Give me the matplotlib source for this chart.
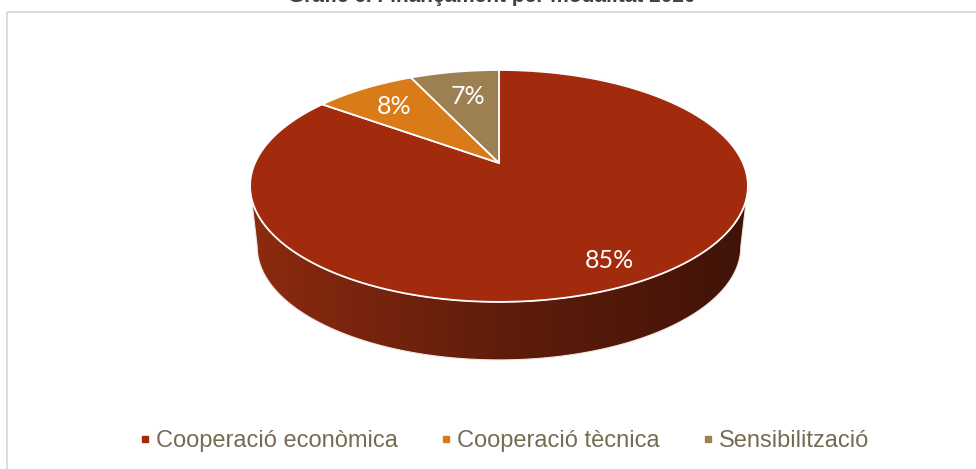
import matplotlib
matplotlib.use('Agg')
from matplotlib import pyplot as plt
from matplotlib.patches import Polygon, Rectangle
from matplotlib.lines import Line2D
import numpy as np

title = "Gràfic 6. Finançament per modalitat 2020"
categories = ["Cooperació econòmica", "Cooperació tècnica", "Sensibilització"]
shares = [85, 8, 7]
colors = ["#A22B0E", "#DA7B19", "#9C8052"]

# perspective ellipse of the pie top (pixel coords, y down)
cx, cy = 499, 163
k = 0.198
A, B = 244, 111.4
A_b, B_b, depth = 237, 108.6, 61.5


def proj(theta, a, b, y0):
    t = np.radians(theta)
    X, Y = np.sin(t), np.cos(t)
    w = 1 + k * Y
    return cx + a * X / w, y0 - b * Y / w


fig = plt.figure(figsize=(9.76, 4.69), dpi=100)
ax = fig.add_axes([0, 0, 1, 1])
ax.set_xlim(0, 976)
ax.set_ylim(469, 0)
ax.axis('off')

# chart frame
ax.add_patch(Rectangle((7, 12), 1000, 500, fill=False, edgecolor='#d9d9d9', lw=1.3))

# title (cut off at top of image, as in the source)
ax.text(492, 1.5, title, ha='center', va='baseline', fontsize=15, weight='bold',
        color='#404040', family='Liberation Sans')

# side of the pie
t_left = np.degrees(np.arccos(-k))
t1 = np.linspace(360 - t_left, t_left, 300)
xt, yt = proj(t1, A, B, cy)
xb, yb = proj(t1[::-1], A_b, B_b, cy + depth)
side = Polygon(np.column_stack([np.r_[xt, xb], np.r_[yt, yb]]), closed=True,
               facecolor='none', edgecolor='#f3e6e0', lw=0.8, zorder=2)
ax.add_patch(side)
gx = np.linspace(250, 750, 400)
stops_x = [250, 500, 750]
stops_c = np.array([[140, 43, 16], [96, 29, 11], [64, 19, 8]]) / 255.0
grad = np.stack([np.interp(gx, stops_x, stops_c[:, i]) for i in range(3)], axis=-1)[None, :, :]
im = ax.imshow(grad, extent=[250, 750, 380, 170], aspect='auto', zorder=1)
im.set_clip_path(side)

# top face wedges, clockwise from 12 o'clock
start = 0.0
for share, col in zip(shares, colors):
    span = 360.0 * share / sum(shares)
    th = np.linspace(start, start + span, 200)
    x, y = proj(th, A, B, cy)
    pts = np.column_stack([np.r_[cx, x], np.r_[cy, y]])
    ax.add_patch(Polygon(pts, closed=True, facecolor=col, edgecolor='white', lw=1.3, zorder=3))
    start += span

# data labels
label_pos = [(609, 261), (394, 107), (468, 97)]
for share, (lx, ly) in zip(shares, label_pos):
    ax.text(lx, ly, f"{share}%", ha='center', va='center', color='white',
            fontsize=18, family='Lato', zorder=4)

handles = [Line2D([], [], marker='s', linestyle='none', markersize=5, color=c) for c in colors]
ax.legend(handles, categories, loc='center', bbox_to_anchor=(0.516, 0.06), ncol=3,
          frameon=False, handlelength=0.6, handletextpad=0.15, columnspacing=1.75,
          prop={'family': 'Liberation Sans', 'size': 17}, labelcolor='#776B52')

plt.savefig('out.png', dpi=100)
